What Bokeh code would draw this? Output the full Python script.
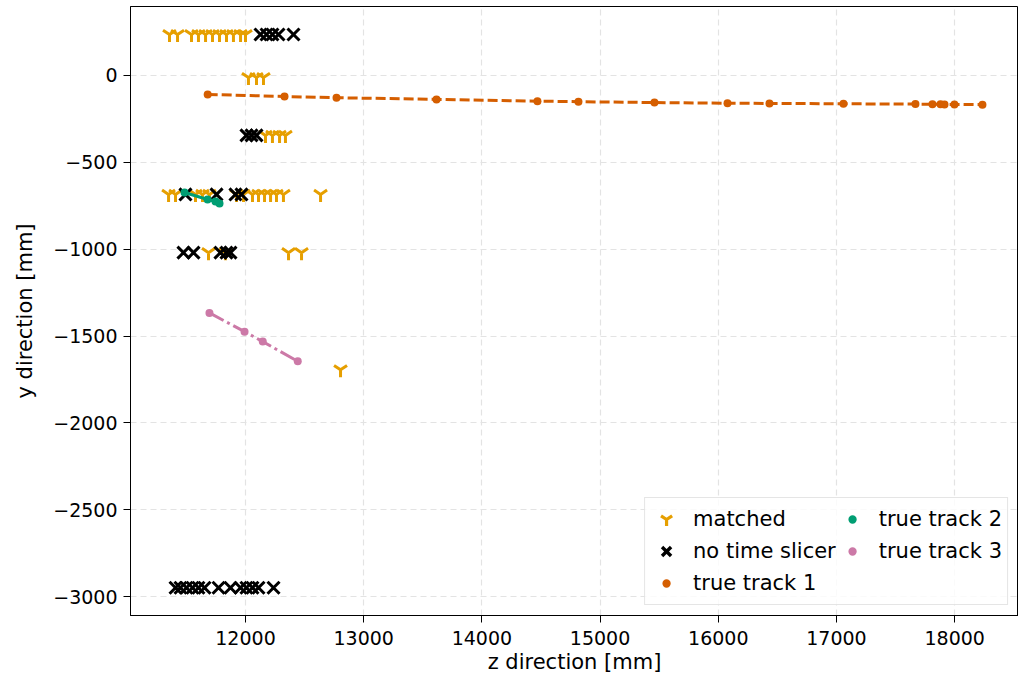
from bokeh.plotting import figure
from bokeh.models import Range1d, Legend, LegendItem, FixedTicker, ColumnDataSource
from bokeh.embed import file_html
from bokeh.resources import INLINE

# ---------------- data ----------------
matched_z = [11357, 11425, 11543, 11602, 11662, 11721, 11780, 11839, 11898, 11958, 12000,
             12025, 12093, 12152,
             12169, 12228, 12288, 12338,
             11349, 11408, 11577, 11636, 11695, 11924, 11983, 12059, 12110, 12161, 12212, 12262, 12321, 12635,
             11687, 11831, 12364, 12474,
             12804]
matched_y = [236] * 11 + [-12] * 3 + [-345] * 4 + [-685] * 14 + [-1020] * 4 + [-1694]

noslice_z = [12127, 12178, 12228, 12279, 12406,
             12008, 12051, 12093,
             11492, 11755, 11915, 11966,
             11475, 11560, 11788, 11839, 11873,
             11408, 11450, 11501, 11552, 11602, 11653, 11772, 11873, 11958, 12008, 12059, 12110, 12237]
noslice_y = [236] * 5 + [-345] * 3 + [-685] * 4 + [-1020] * 5 + [-2949] * 13

track1_z = [11680, 12330, 12770, 13616, 14470, 14817, 15460, 16078, 16433, 17059,
            17668, 17812, 17880, 17914, 17998, 18235]
track1_y = [-109, -121, -128, -138, -148, -151, -156, -160, -161, -163,
            -165, -166, -166, -167, -167, -168]

track2_z = [11484, 11679, 11746, 11780]
track2_y = [-674, -714, -726, -737]

track3_z = [11695, 11992, 12146, 12442]
track3_y = [-1367, -1475, -1532, -1646]

x_ticks = [12000, 13000, 14000, 15000, 16000, 17000, 18000]
y_ticks = [-3000, -2500, -2000, -1500, -1000, -500, 0]
y_tick_labels = ["\u22123000", "\u22122500", "\u22122000", "\u22121500", "\u22121000", "\u2212500", "0"]

labels = ["matched", "no time slicer", "true track 1", "true track 2", "true track 3"]
c_matched = "#E69F00"
c_noslice = "#000000"
c_t1 = "#D55E00"
c_t2 = "#009E73"
c_t3 = "#CC79A7"

FONT = "DejaVu Sans"

p = figure(frame_width=888, frame_height=609,
           min_border_left=130, min_border_right=0, min_border_top=6, min_border_bottom=40,
           x_range=Range1d(11027, 18540), y_range=Range1d(-3109, 397),
           output_backend="svg", toolbar_location=None)

p.outline_line_color = "black"
p.outline_line_width = 1
p.outline_line_alpha = 1
p.background_fill_color = "white"

p.xaxis.ticker = FixedTicker(ticks=x_ticks)
p.yaxis.ticker = FixedTicker(ticks=y_ticks)
p.yaxis.major_label_overrides = {t: l for t, l in zip(y_ticks, y_tick_labels)}

for ax in (p.xaxis, p.yaxis):
    ax.major_label_text_font = FONT
    ax.major_label_text_font_size = "19px"
    ax.major_label_text_color = "black"
    ax.axis_label_text_font = FONT
    ax.axis_label_text_font_size = "21px"
    ax.axis_label_text_font_style = "normal"
    ax.axis_label_text_color = "black"
    ax.axis_line_color = "black"
    ax.major_tick_line_color = "black"
    ax.major_tick_out = 7
    ax.major_tick_in = 0
    ax.minor_tick_line_color = None

p.xaxis.axis_label = "z direction [mm]"
p.yaxis.axis_label = "y direction [mm]"
p.xaxis.major_label_standoff = 8
p.xaxis.axis_label_standoff = 2
p.yaxis.major_label_standoff = 6
p.yaxis.axis_label_standoff = 13

p.grid.grid_line_color = "#e3e3e3"
p.grid.grid_line_dash = "6 4"
p.grid.grid_line_width = 1.2

r_m = p.scatter(matched_z, matched_y, marker="y", size=15, line_color=c_matched, line_width=3)
r_n = p.scatter(noslice_z, noslice_y, marker="x", size=17, line_color=c_noslice, line_width=3)

p.line(track1_z, track1_y, line_color=c_t1, line_width=3, line_dash="10 4")
r_t1 = p.scatter(track1_z, track1_y, marker="circle", size=8, fill_color=c_t1, line_color=None)
p.line(track2_z, track2_y, line_color=c_t2, line_width=3)
r_t2 = p.scatter(track2_z, track2_y, marker="circle", size=8, fill_color=c_t2, line_color=None)
p.line(track3_z, track3_y, line_color=c_t3, line_width=3, line_dash="16 4 3 4")
r_t3 = p.scatter(track3_z, track3_y, marker="circle", size=8, fill_color=c_t3, line_color=None)

# legend-only proxies (a single undrawable NaN point) so that legend dots are smaller
nan = float("nan")


def proxy(color, marker="circle", lw=4.5, line_color="white"):
    src = ColumnDataSource(data=dict(x=[nan], y=[nan]))
    return p.scatter("x", "y", source=src, marker=marker, fill_color=color,
                     line_color=line_color, line_width=lw)


l_m = proxy(c_matched, marker="y", lw=3.2, line_color=c_matched)
l_n = proxy(c_noslice, marker="x", lw=3.4, line_color=c_noslice)
l_t1 = proxy(c_t1)
l_t2 = proxy(c_t2)
l_t3 = proxy(c_t3)

items = [LegendItem(label=labels[0], renderers=[l_m]),
         LegendItem(label=labels[1], renderers=[l_n]),
         LegendItem(label=labels[2], renderers=[l_t1]),
         LegendItem(label=labels[3], renderers=[l_t2]),
         LegendItem(label=labels[4], renderers=[l_t3])]
legend = Legend(items=items, ncols=2, location="bottom_right",
                label_text_font=FONT, label_text_font_size="21px", label_text_color="black",
                glyph_width=32, glyph_height=32, label_height=29, spacing=0,
                padding=5, margin=10, label_standoff=11,
                border_line_color="#cccccc", border_line_width=1,
                background_fill_color="white", background_fill_alpha=0.8)
p.add_layout(legend, "center")

open("out.html", "w").write(file_html(p, INLINE))
